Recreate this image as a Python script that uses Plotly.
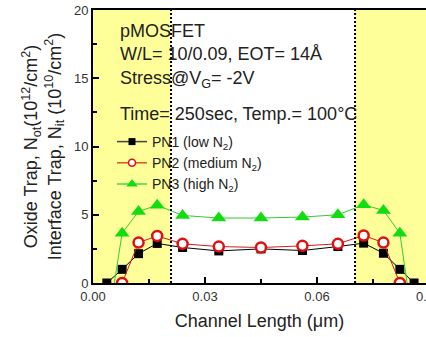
import plotly.graph_objects as go

# ---- data ----
channel_length = [0.0037, 0.0078, 0.0122, 0.0172, 0.0240, 0.0337, 0.0450,
                  0.0561, 0.0656, 0.0725, 0.0778, 0.0822, 0.0860]
pn1 = [0.0, 1.0, 2.15, 2.9, 2.6, 2.35, 2.5, 2.38, 2.67, 2.92, 2.18, 1.0, 0.0]
pn2 = [None, 0.0, 2.96, 3.45, 2.87, 2.67, 2.6, 2.72, 2.87, 3.48, 2.96, 0.0, None]
pn3 = [-3.5, 3.65, 5.24, 5.7, 4.95, 4.76, 4.76, 4.83, 5.0, 5.73, 5.32, 3.65, -3.5]
series_names = ["PN1 (low N<sub>2</sub>)", "PN2 (medium N<sub>2</sub>)",
                "PN3 (high N<sub>2</sub>)"]
region_edges = [0.0209, 0.0702]
x_ticks = [0.00, 0.03, 0.06, 0.09]
y_ticks = [0, 5, 10, 15, 20]
info_lines = ["pMOSFET", "W/L= 10/0.09, EOT= 14Å",
              "Stress@V<sub>G</sub>= -2V",
              "Time= 250sec, Temp.= 100°C"]

FONT = "Arial, Liberation Sans, sans-serif"
XMAX = 0.0892

styles = [
    dict(line=dict(color="black", width=1),
         marker=dict(symbol="square", size=9, color="black"),
         legend_marker=dict(symbol="square", size=7, color="black")),
    dict(line=dict(color="#cc2020", width=1),
         marker=dict(symbol="circle", size=10, color="white",
                     line=dict(color="#e01010", width=2.5)),
         legend_marker=dict(symbol="circle", size=7, color="white",
                            line=dict(color="#e01010", width=1.5))),
    dict(line=dict(color="#33cc33", width=1),
         marker=dict(symbol="triangle-up", size=13, color="#11dd11"),
         legend_marker=dict(symbol="triangle-up", size=10, color="#11dd11")),
]
legend_line_colors = ["#444", "#e0502a", "#44dd44"]

fig = go.Figure()
for ys, st in zip([pn1, pn2, pn3], styles):
    fig.add_trace(go.Scatter(x=channel_length, y=ys, mode="lines+markers",
                             line=st["line"], marker=st["marker"],
                             showlegend=False))
for name, st, lc in zip(series_names, styles, legend_line_colors):
    fig.add_trace(go.Scatter(x=[None], y=[None], name=name, mode="lines+markers",
                             line=dict(color=lc, width=1.5),
                             marker=st["legend_marker"]))

# yellow regions
fig.add_shape(type="rect", xref="x", yref="y", x0=0, x1=region_edges[0],
              y0=0, y1=20, fillcolor="#ffff99", line=dict(width=0), layer="below")
fig.add_shape(type="rect", xref="x", yref="y", x0=region_edges[1], x1=XMAX,
              y0=0, y1=20, fillcolor="#ffff99", line=dict(width=0), layer="below")
for e in region_edges:
    fig.add_shape(type="line", xref="x", yref="y", x0=e, x1=e, y0=0, y1=20,
                  line=dict(color="black", width=2, dash="2px,2px"))

# info text
ypix = [31, 54, 79, 114]
for t, yp in zip(info_lines, ypix):
    fig.add_annotation(text=t, xref="paper", yref="paper",
                       x=(118 - 93) / 333, y=(283 - yp) / 273,
                       xanchor="left", yanchor="middle", showarrow=False,
                       font=dict(family=FONT, size=18, color="#222"))

# partially visible last tick label
fig.add_annotation(text="0.09", xref="paper", yref="paper",
                   x=(429 - 93) / 333, y=-(296 - 283) / 273,
                   xanchor="center", yanchor="middle", showarrow=False,
                   font=dict(family=FONT, size=13, color="#333"))

fig.update_layout(
    width=426, height=337,
    margin=dict(l=93, r=0, t=10, b=54),
    paper_bgcolor="white", plot_bgcolor="white",
    font=dict(family=FONT, color="#222"),
    showlegend=True,
    legend=dict(x=(112 - 93) / 333, y=(283 - 126) / 273, xanchor="left",
                yanchor="top", bgcolor="rgba(0,0,0,0)",
                font=dict(family=FONT, size=14, color="#222"),
                tracegroupgap=0),
    xaxis=dict(range=[0, XMAX], tickvals=x_ticks[:3], tickformat=".2f",
               ticks="inside", ticklen=6, tickwidth=1.5, tickcolor="black",
               showline=True, linecolor="black", linewidth=2, mirror=True,
               showgrid=False, zeroline=False,
               tickfont=dict(family=FONT, size=13, color="#333"),
               minor=dict(dtick=0.015, ticks="inside", ticklen=4,
                          tickcolor="black", showgrid=False),
               title=dict(text="Channel Length (μm)",
                          font=dict(family=FONT, size=18, color="#222"),
                          standoff=12)),
    yaxis=dict(range=[0, 20], tickvals=y_ticks,
               ticks="inside", ticklen=6, tickwidth=1.5, tickcolor="black",
               showline=True, linecolor="black", linewidth=2, mirror=False,
               showgrid=False, zeroline=False,
               tickfont=dict(family=FONT, size=13, color="#333"),
               minor=dict(dtick=2.5, ticks="inside", ticklen=4,
                          tickcolor="black", showgrid=False),
               title=dict(text="Oxide Trap, N<sub>ot</sub>(10<sup>12</sup>/cm<sup>2</sup>)<br>"
                               "Interface Trap, N<sub>it</sub> (10<sup>10</sup>/cm<sup>2</sup>)",
                          font=dict(family=FONT, size=18, color="#222"),
                          standoff=8)),
)

fig.write_html("out.html")
